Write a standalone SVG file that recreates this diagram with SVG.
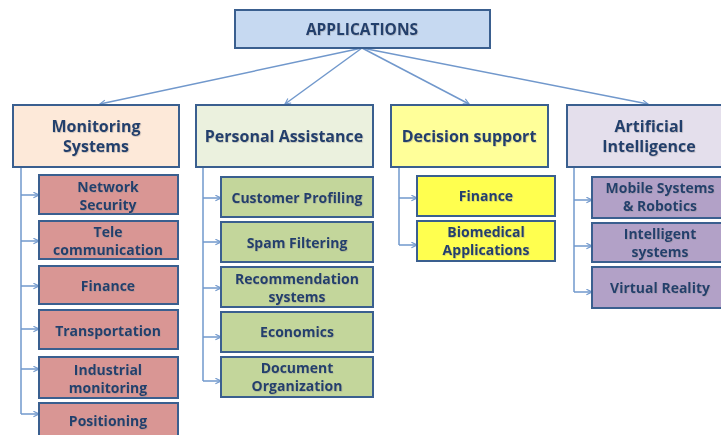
<svg xmlns="http://www.w3.org/2000/svg" width="721" height="435" viewBox="0 0 721 435">
  <defs>
    <marker id="arrow" viewBox="0 0 10 10" refX="9" refY="5" markerWidth="7" markerHeight="7" markerUnits="userSpaceOnUse" orient="auto">
      <path d="M1,1 L9,5 L1,9" fill="none" stroke="#7198cc" stroke-width="1.6"/>
    </marker>
    <filter id="soft" x="-5%" y="-20%" width="110%" height="140%">
      <feDropShadow dx="0.6" dy="0.8" stdDeviation="0.5" flood-color="#8a8a8a" flood-opacity="0.45"/>
    </filter>
  </defs>
  <style>
    .box { stroke: #3a5f8f; stroke-width: 2; }
    .root { fill: #c6d9f1; }
    .mon { fill: #fde9d9; }
    .mon-c { fill: #d99694; }
    .pa { fill: #ebf1de; }
    .pa-c { fill: #c3d69b; }
    .ds { fill: #ffff99; }
    .ds-c { fill: #ffff4f; }
    .ai { fill: #e4dfec; }
    .ai-c { fill: #b2a1c7; }
    text { font-family: "Open Sans", "Liberation Sans", sans-serif; font-weight: bold; fill: #23406d; text-anchor: middle; filter: url(#soft); }
    .t-root { font-size: 15.5px; }
    .t-cat { font-size: 16px; }
    .t-sub { font-size: 14px; }
    .link { fill: none; stroke: #7198cc; stroke-width: 1.5; }
    .arr { marker-end: url(#arrow); }
  </style>

  <!-- connectors -->
  <g id="connectors">
    <line class="link arr" x1="362" y1="48" x2="100" y2="104"/>
    <line class="link arr" x1="362" y1="48" x2="285" y2="104"/>
    <line class="link arr" x1="362" y1="48" x2="469" y2="104"/>
    <line class="link arr" x1="362" y1="48" x2="648" y2="104"/>

    <!-- Monitoring Systems branches -->
    <line class="link" x1="21" y1="167" x2="21" y2="414"/>
    <line class="link arr" x1="21" y1="195" x2="39" y2="195"/>
    <line class="link arr" x1="21" y1="241" x2="39" y2="241"/>
    <line class="link arr" x1="21" y1="286" x2="39" y2="286"/>
    <line class="link arr" x1="21" y1="329" x2="39" y2="329"/>
    <line class="link arr" x1="21" y1="369" x2="39" y2="369"/>
    <line class="link arr" x1="21" y1="414" x2="39" y2="414"/>

    <!-- Personal Assistance branches -->
    <line class="link" x1="203" y1="167" x2="203" y2="381"/>
    <line class="link arr" x1="203" y1="198" x2="221" y2="198"/>
    <line class="link arr" x1="203" y1="242" x2="221" y2="242"/>
    <line class="link arr" x1="203" y1="288" x2="221" y2="288"/>
    <line class="link arr" x1="203" y1="337" x2="221" y2="337"/>
    <line class="link arr" x1="203" y1="381" x2="221" y2="381"/>

    <!-- Decision support branches -->
    <line class="link" x1="399" y1="167" x2="399" y2="245"/>
    <line class="link arr" x1="399" y1="198" x2="417" y2="198"/>
    <line class="link arr" x1="399" y1="245" x2="417" y2="245"/>

    <!-- Artificial Intelligence branches -->
    <line class="link" x1="574" y1="167" x2="574" y2="292"/>
    <line class="link arr" x1="574" y1="200" x2="592" y2="200"/>
    <line class="link arr" x1="574" y1="246" x2="592" y2="246"/>
    <line class="link arr" x1="574" y1="292" x2="592" y2="292"/>
  </g>

  <!-- root -->
  <g id="applications">
    <rect class="box root" x="235" y="10" width="255" height="38"/>
    <text class="t-root" x="362" y="34.5">APPLICATIONS</text>
  </g>

  <!-- categories -->
  <g id="monitoring-systems">
    <rect class="box mon" x="13" y="105" width="166" height="62"/>
    <text class="t-cat" x="96" y="131.5">Monitoring</text>
    <text class="t-cat" x="96" y="151.5">Systems</text>
  </g>
  <g id="personal-assistance">
    <rect class="box pa" x="196" y="105" width="177" height="62"/>
    <text class="t-cat" x="284" y="141.5">Personal Assistance</text>
  </g>
  <g id="decision-support">
    <rect class="box ds" x="391" y="105" width="157" height="62"/>
    <text class="t-cat" x="469" y="141.5">Decision support</text>
  </g>
  <g id="artificial-intelligence">
    <rect class="box ai" x="567" y="105" width="164" height="62"/>
    <text class="t-cat" x="649" y="131.5">Artificial</text>
    <text class="t-cat" x="649" y="151.5">Intelligence</text>
  </g>

  <!-- Monitoring Systems items -->
  <g id="network-security">
    <rect class="box mon-c" x="39" y="175" width="139" height="39"/>
    <text class="t-sub" x="108" y="191.5">Network</text>
    <text class="t-sub" x="108" y="209.5">Security</text>
  </g>
  <g id="telecommunication">
    <rect class="box mon-c" x="39" y="221" width="139" height="38"/>
    <text class="t-sub" x="108" y="236.5">Tele</text>
    <text class="t-sub" x="108" y="254.5">communication</text>
  </g>
  <g id="finance-monitoring">
    <rect class="box mon-c" x="39" y="266" width="139" height="38"/>
    <text class="t-sub" x="108" y="290.5">Finance</text>
  </g>
  <g id="transportation">
    <rect class="box mon-c" x="39" y="310" width="139" height="39"/>
    <text class="t-sub" x="108" y="335.5">Transportation</text>
  </g>
  <g id="industrial-monitoring">
    <rect class="box mon-c" x="39" y="357" width="139" height="41"/>
    <text class="t-sub" x="108" y="375">Industrial</text>
    <text class="t-sub" x="108" y="393">monitoring</text>
  </g>
  <g id="positioning">
    <rect class="box mon-c" x="39" y="403" width="139" height="40"/>
    <text class="t-sub" x="108" y="426">Positioning</text>
  </g>

  <!-- Personal Assistance items -->
  <g id="customer-profiling">
    <rect class="box pa-c" x="221" y="177" width="152" height="40"/>
    <text class="t-sub" x="297" y="202.5">Customer Profiling</text>
  </g>
  <g id="spam-filtering">
    <rect class="box pa-c" x="221" y="222" width="152" height="40"/>
    <text class="t-sub" x="297" y="248">Spam Filtering</text>
  </g>
  <g id="recommendation-systems">
    <rect class="box pa-c" x="221" y="267" width="152" height="40"/>
    <text class="t-sub" x="297" y="283.5">Recommendation</text>
    <text class="t-sub" x="297" y="301.5">systems</text>
  </g>
  <g id="economics">
    <rect class="box pa-c" x="221" y="312" width="152" height="40"/>
    <text class="t-sub" x="297" y="337">Economics</text>
  </g>
  <g id="document-organization">
    <rect class="box pa-c" x="221" y="357" width="152" height="40"/>
    <text class="t-sub" x="297" y="372.5">Document</text>
    <text class="t-sub" x="297" y="390.5">Organization</text>
  </g>

  <!-- Decision support items -->
  <g id="finance-decision">
    <rect class="box ds-c" x="417" y="176" width="138" height="40"/>
    <text class="t-sub" x="486" y="201">Finance</text>
  </g>
  <g id="biomedical-applications">
    <rect class="box ds-c" x="417" y="221" width="138" height="40"/>
    <text class="t-sub" x="486" y="237">Biomedical</text>
    <text class="t-sub" x="486" y="255">Applications</text>
  </g>

  <!-- Artificial Intelligence items -->
  <g id="mobile-systems-robotics">
    <rect class="box ai-c" x="592" y="177" width="138" height="41"/>
    <text class="t-sub" x="660" y="193">Mobile Systems</text>
    <text class="t-sub" x="660" y="211">&amp; Robotics</text>
  </g>
  <g id="intelligent-systems">
    <rect class="box ai-c" x="592" y="223" width="138" height="39"/>
    <text class="t-sub" x="660" y="238.5">Intelligent</text>
    <text class="t-sub" x="660" y="256.5">systems</text>
  </g>
  <g id="virtual-reality">
    <rect class="box ai-c" x="592" y="267" width="138" height="41"/>
    <text class="t-sub" x="660" y="292.5">Virtual Reality</text>
  </g>
</svg>
